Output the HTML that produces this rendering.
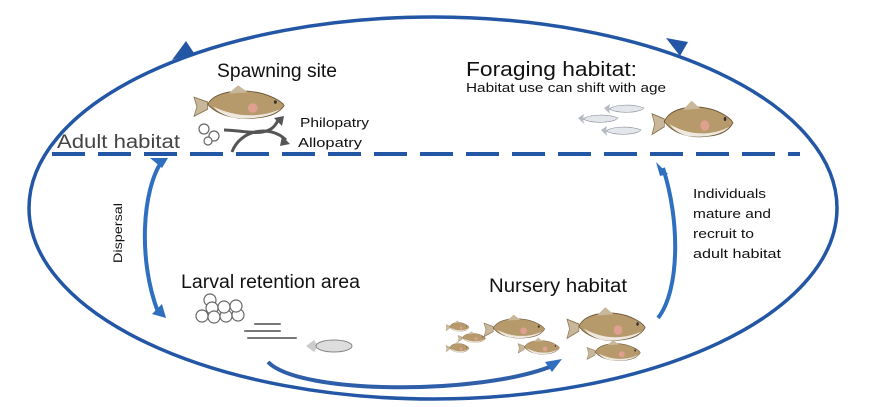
<!DOCTYPE html>
<html><head><meta charset="utf-8"><style>
html,body{margin:0;padding:0;background:#fff;}
svg{display:block;}
text{font-family:"Liberation Sans","DejaVu Sans",sans-serif;fill:#111;}
</style></head><body>
<svg width="870" height="407" viewBox="0 0 870 407" xmlns="http://www.w3.org/2000/svg">
<defs>
<g id="fish">
  <path d="M0,6 L14,10 L14,16 L0,22 L3,14 Z" fill="#c8b79a" stroke="#8a7550" stroke-width="0.8"/>
  <path d="M14,12 C20,2 45,-2 70,3 C82,6 90,10 92,13 C88,18 80,22 66,23 C45,25 25,22 14,12 Z" fill="#b79a6c" stroke="#6d5a3a" stroke-width="0.8"/>
  <path d="M20,14 C40,22 65,24 88,16 C80,22 60,25 40,23 C30,21 24,18 20,14Z" fill="#eee8df"/>
  <ellipse cx="60" cy="15" rx="5" ry="4" fill="#e0a090"/>
  <path d="M35,3 L45,-4 L55,2 Z" fill="#c8b79a"/>
  <circle cx="83" cy="10" r="1.5" fill="#333"/>
</g>
<g id="bait">
  <path d="M0,4 L6,0 L5,5 L6,10 Z" fill="#b8bcc4"/>
  <path d="M5,5 C12,0 30,0 40,4 C36,9 14,10 5,5Z" fill="#e3e6ea" stroke="#8a9098" stroke-width="0.6"/>
</g>
</defs>
<ellipse cx="433" cy="208" rx="404" ry="191" fill="none" stroke="#2356a5" stroke-width="3.5"/>
<polygon points="172,60 194,53 186,41" fill="#2356a5"/>
<polygon points="666,38 688,42 680,56" fill="#2356a5"/>
<line x1="52" y1="154" x2="800" y2="154" stroke="#2356a5" stroke-width="4" stroke-dasharray="33,13"/>
<path d="M162,161 C142,190 138,260 158,312" fill="none" stroke="#2e6fc0" stroke-width="4"/>
<polygon points="150,158 168,158 162,168" fill="#2e6fc0"/>
<polygon points="152,314 166,318 162,304" fill="#2e6fc0"/>
<path d="M663,168 C680,220 680,290 658,318" fill="none" stroke="#2e6fc0" stroke-width="4"/>
<polygon points="656,162 668,174 660,176" fill="#2e6fc0"/>
<path d="M268,362 C300,395 480,395 552,366" fill="none" stroke="#2e5fa8" stroke-width="4"/>
<polygon points="545,362 562,359 552,372" fill="#2e6fc0"/>
<text x="217" y="77" font-size="19" textLength="120" lengthAdjust="spacingAndGlyphs">Spawning site</text>
<text x="466" y="76" font-size="20" textLength="171" lengthAdjust="spacingAndGlyphs">Foraging habitat:</text>
<text x="466" y="92" font-size="13" textLength="200" lengthAdjust="spacingAndGlyphs">Habitat use can shift with age</text>
<text x="57" y="148" font-size="19" style="fill:#444" textLength="123" lengthAdjust="spacingAndGlyphs">Adult habitat</text>
<text x="300" y="127" font-size="13" textLength="69" lengthAdjust="spacingAndGlyphs">Philopatry</text>
<text x="298" y="147" font-size="13" textLength="64" lengthAdjust="spacingAndGlyphs">Allopatry</text>
<text x="181" y="288" font-size="19" textLength="179" lengthAdjust="spacingAndGlyphs">Larval retention area</text>
<text x="489" y="292" font-size="19" textLength="138" lengthAdjust="spacingAndGlyphs">Nursery habitat</text>
<text x="693" y="198" font-size="13" textLength="73" lengthAdjust="spacingAndGlyphs">Individuals</text>
<text x="693" y="218" font-size="13" textLength="78" lengthAdjust="spacingAndGlyphs">mature and</text>
<text x="693" y="238" font-size="13" textLength="61" lengthAdjust="spacingAndGlyphs">recruit to</text>
<text x="693" y="258" font-size="13" textLength="88" lengthAdjust="spacingAndGlyphs">adult habitat</text>
<text transform="translate(122,263) rotate(-90)" font-size="12" textLength="60" lengthAdjust="spacingAndGlyphs">Dispersal</text>
<use href="#fish" transform="translate(194,90) scale(0.98,1.2)"/>
<use href="#fish" transform="translate(652,106) scale(0.88,1.3)"/>
<use href="#fish" transform="translate(567,312) scale(0.85,1.2)"/>
<use href="#fish" transform="translate(587,343) scale(0.58,0.75)"/>
<use href="#fish" transform="translate(484,318) scale(0.66,0.85)"/>
<use href="#fish" transform="translate(518,340) scale(0.45,0.6)"/>
<use href="#fish" transform="translate(446,322) scale(0.25,0.4)"/>
<use href="#fish" transform="translate(458,333) scale(0.3,0.4)"/>
<use href="#fish" transform="translate(446,343) scale(0.25,0.4)"/>
<use href="#bait" transform="translate(604,104)"/>
<use href="#bait" transform="translate(578,114)"/>
<use href="#bait" transform="translate(601,126)"/>
<g fill="#fff" stroke="#666" stroke-width="1.2">
<circle cx="204" cy="129" r="5"/><circle cx="214" cy="136" r="5"/><circle cx="208" cy="141" r="4"/>
<circle cx="210" cy="300" r="6"/><circle cx="212" cy="308" r="6"/><circle cx="202" cy="316" r="6"/>
<circle cx="214" cy="317" r="6"/><circle cx="226" cy="316" r="6"/><circle cx="238" cy="315" r="6"/>
<circle cx="224" cy="307" r="6"/><circle cx="236" cy="306" r="6"/>
</g>
<g stroke="#777" stroke-width="2" stroke-linecap="round">
<line x1="255" y1="324" x2="280" y2="324"/><line x1="245" y1="331" x2="280" y2="331"/>
<line x1="248" y1="338" x2="278" y2="338"/><line x1="274" y1="338" x2="296" y2="338"/>
</g>
<path d="M306,346 L314,340 L318,346 L314,352 Z" fill="#ccc"/>
<ellipse cx="334" cy="346" rx="18" ry="6" fill="#ddd" stroke="#888"/>
<path d="M232,152 C240,130 270,124 286,140" fill="none" stroke="#555" stroke-width="3"/>
<path d="M224,130 C245,130 270,140 278,120" fill="none" stroke="#555" stroke-width="3"/>
<polygon points="274,118 284,116 282,126" fill="#555"/>
<polygon points="282,136 290,144 280,146" fill="#555"/>
</svg>
</body></html>
